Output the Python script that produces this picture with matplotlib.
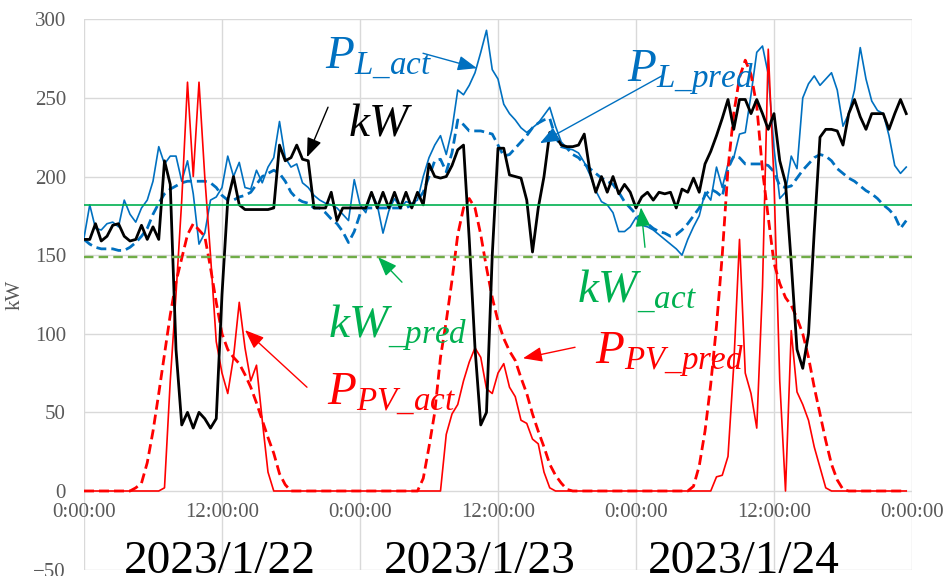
import numpy as np
import matplotlib
matplotlib.use('Agg')
import matplotlib.pyplot as plt

plt.rcParams['font.family'] = ['Liberation Serif', 'DejaVu Serif']
plt.rcParams['mathtext.fontset'] = 'custom'
plt.rcParams['mathtext.rm'] = 'Liberation Serif'
plt.rcParams['mathtext.it'] = 'Liberation Serif:italic'

# half-hourly samples, 2023/1/22 0:00 -> 2023/1/24 23:30 (hours from start)
hours = np.arange(144) * 0.5

p_l_act = [
    161, 182, 167, 166, 170, 171, 168, 185, 176, 171, 180, 185,
    197, 219, 208, 213, 213, 197, 210, 189, 157, 164, 185, 187,
    193, 213, 200, 209, 193, 192, 204, 196, 206, 212, 235, 212,
    206, 208, 196, 193, 188, 185, 183, 182, 180, 176, 172, 198,
    182, 177, 190, 182, 164, 178, 186, 180, 184, 183, 185, 200,
    212, 220, 226, 214, 230, 255, 252, 258, 266, 279, 293, 268,
    262, 246, 240, 236, 231, 228, 231, 234, 239, 244, 232, 222,
    218, 217, 215, 209, 201, 191, 184, 182, 177, 165, 165, 168,
    174, 169, 168, 166, 163, 160, 157, 154, 150, 160, 168, 175,
    190, 185, 206, 193, 208, 212, 227, 228, 252, 279, 283, 265,
    218, 186, 190, 213, 205, 250, 259, 264, 258, 262, 266, 255,
    232, 240, 255, 282, 262, 248, 242, 240, 226, 207, 202, 206,
]

p_l_pred = [
    160, 157, 155, 154, 154, 154, 153, 153, 155, 158, 162, 167,
    176, 183, 189, 192, 194, 196, 197, 197, 197, 197, 196, 193,
    188, 185, 185, 187, 188, 190, 195, 200, 202, 204, 202, 197,
    190, 186, 184, 183, 180, 180, 177, 173, 170, 165, 158, 165,
    176, 180, 180, 180, 180, 180, 180, 180, 180, 182, 185, 190,
    200, 210, 211, 203, 215, 236, 233, 229, 229, 229, 228, 227,
    220, 213, 214, 218, 222, 226, 231, 234, 236, 237, 225, 219,
    218, 214, 212, 208, 205, 202, 199, 197, 195, 190, 184, 180,
    176, 172, 170, 167, 165, 164, 162, 163, 166, 170, 175, 180,
    188, 192, 190, 187, 205, 213, 212, 208, 208, 208, 208, 207,
    203, 194, 193, 194, 199, 204, 208, 212, 214, 213, 210, 205,
    202, 199, 197, 194, 191, 189, 186, 182, 179, 175, 167, 172,
]

kw = [
    160, 160, 170, 159, 162, 169, 170, 162, 159, 160, 169, 160,
    168, 160, 210, 195, 90, 42, 50, 40, 50, 46, 40, 46,
    125, 185, 200, 182, 179, 179, 179, 179, 179, 180, 220, 210,
    212, 220, 211, 210, 180, 180, 180, 190, 172, 180, 180, 180,
    180, 180, 190, 180, 190, 180, 190, 180, 190, 180, 190, 182,
    208, 200, 199, 200, 207, 217, 220, 160, 91, 42, 50, 150,
    218, 218, 201, 200, 199, 185, 152, 180, 200, 228, 226, 220,
    219, 219, 220, 227, 203, 190, 200, 190, 200, 189, 195, 190,
    180, 187, 190, 185, 190, 189, 190, 180, 192, 190, 199, 190,
    208, 216, 226, 237, 249, 230, 249, 249, 240, 249, 240, 230,
    240, 210, 196, 145, 90, 78, 100, 165, 225, 230, 230, 229,
    220, 240, 249, 238, 230, 240, 240, 240, 230, 240, 249, 240,
]

p_pv_act = [
    0, 0, 0, 0, 0, 0, 0, 0, 0, 0, 0, 0,
    0, 0, 2, 70, 125, 185, 260, 200, 260, 200, 150, 95,
    75, 62, 85, 120, 91, 70, 80, 45, 12, 0, 0, 0,
    0, 0, 0, 0, 0, 0, 0, 0, 0, 0, 0, 0,
    0, 0, 0, 0, 0, 0, 0, 0, 0, 0, 0, 0,
    0, 0, 0, 36, 49, 55, 70, 82, 91, 85, 65, 62,
    75, 81, 66, 60, 45, 43, 33, 30, 12, 2, 0, 0,
    0, 0, 0, 0, 0, 0, 0, 0, 0, 0, 0, 0,
    0, 0, 0, 0, 0, 0, 0, 0, 0, 0, 0, 0,
    0, 0, 9, 10, 22, 80, 160, 75, 62, 40, 130, 281,
    197, 70, 0, 102, 63, 55, 45, 28, 15, 2, 0, 0,
    0, 0, 0, 0, 0, 0, 0, 0, 0, 0, 0, 0,
]

p_pv_pred = [
    0, 0, 0, 0, 0, 0, 0, 0, 0, 2, 5, 18,
    38, 62, 87, 112, 133, 148, 163, 170, 166, 162, 142, 120,
    100, 90, 85, 81, 74, 66, 56, 45, 34, 24, 11, 4,
    0, 0, 0, 0, 0, 0, 0, 0, 0, 0, 0, 0,
    0, 0, 0, 0, 0, 0, 0, 0, 0, 0, 0, 8,
    28, 50, 85, 108, 134, 163, 180, 186, 180, 163, 142, 123,
    108, 97, 89, 83, 72, 62, 49, 38, 28, 17, 10, 5,
    1, 0, 0, 0, 0, 0, 0, 0, 0, 0, 0, 0,
    0, 0, 0, 0, 0, 0, 0, 0, 0, 0, 3, 16,
    38, 68, 105, 150, 205, 240, 263, 274, 265, 245, 204, 174,
    145, 132, 123, 118, 110, 100, 85, 66, 49, 32, 17, 7,
    1, 0, 0, 0, 0, 0, 0, 0, 0, 0, 0, 0,
]

kw_act = 182
kw_pred = 149

x_ticks = [0, 12, 24, 36, 48, 60, 72]
x_labels = ['0:00:00', '12:00:00', '0:00:00', '12:00:00', '0:00:00', '12:00:00', '0:00:00']
dates = ['2023/1/22', '2023/1/23', '2023/1/24']

BLUE = '#0070C0'
RED = '#FF0000'
GREEN = '#00B050'
OLIVE = '#70AD47'
GRAY = '#595959'
GRID = '#D9D9D9'

fig = plt.figure(figsize=(9.46, 5.76), dpi=100)
ax = fig.add_axes([84 / 946, 1 - 569.6 / 576, 828 / 946, 550.3 / 576])

ax.plot(hours, p_l_act, color=BLUE, lw=1.2, solid_joinstyle='round')
ax.plot(hours, p_l_pred, color=BLUE, lw=2, dashes=(3.6, 1.8))
ax.plot(hours, p_pv_act, color=RED, lw=1.2, solid_joinstyle='round')
ax.plot(hours, p_pv_pred, color=RED, lw=2, dashes=(3.6, 1.8))
ax.plot(hours, kw, color='black', lw=2, solid_joinstyle='round')
ax.axhline(kw_act, color=GREEN, lw=1.2)
ax.axhline(kw_pred, color=OLIVE, lw=1.7, dashes=(4, 2.2))

ax.set_xlim(0, 72)
ax.set_ylim(-50, 300)
ax.set_yticks(np.arange(-50, 301, 50))
ax.set_xticks(x_ticks)
ax.set_xticklabels(x_labels)
ax.grid(True, color=GRID, lw=1)
ax.set_axisbelow(True)
for s in ax.spines.values():
    s.set_visible(False)
ax.spines['bottom'].set_position(('data', 0))
ax.tick_params(axis='both', length=0, labelsize=15, labelcolor=GRAY)
ax.tick_params(axis='y', pad=13)
ax.tick_params(axis='x', pad=8.5)
ax.set_ylabel('kW', fontsize=15, color=GRAY, labelpad=6)

# annotations
big = 34
ax.text(20.96, 268.9, r'$P_{L\_act}$', color=BLUE, fontsize=big)
ax.text(47.2, 260, r'$P_{L\_pred}$', color=BLUE, fontsize=big)
ax.text(22.96, 226.3, r'$kW$', color='black', fontsize=big)
ax.text(21.2, 97.8, r'$kW_{\_pred}$', color=GREEN, fontsize=big)
ax.text(42.9, 120, r'$kW_{\_act}$', color=GREEN, fontsize=big)
ax.text(21.1, 55.1, r'$P_{PV\_act}$', color=RED, fontsize=big)
ax.text(44.4, 81.2, r'$P_{PV\_pred}$', color=RED, fontsize=big)

arrows = [
    ((29.48, 278.4), (34.17, 268.9), BLUE),
    ((50.35, 264.4), (39.65, 221.2), BLUE),
    ((21.22, 244.1), (19.39, 212.3), 'black'),
    ((27.65, 132.8), (25.57, 148.7), GREEN),
    ((48.78, 155.0), (48.43, 180.4), GREEN),
    ((19.39, 66.0), (14.0, 102.3), RED),
    ((42.7, 91.4), (38.17, 84.4), RED),
]
for tail, head, c in arrows:
    ax.annotate('', xy=head, xytext=tail,
                arrowprops=dict(arrowstyle='-|>,head_length=0.9,head_width=0.35',
                                mutation_scale=13, lw=1, color=c,
                                shrinkA=0, shrinkB=0))

for cx, d in zip([220, 480, 744], dates):
    fig.text(cx / 946, 3 / 576, d, fontsize=34, color='black',
             ha='center', va='baseline')

plt.savefig('out.png', dpi=100)
